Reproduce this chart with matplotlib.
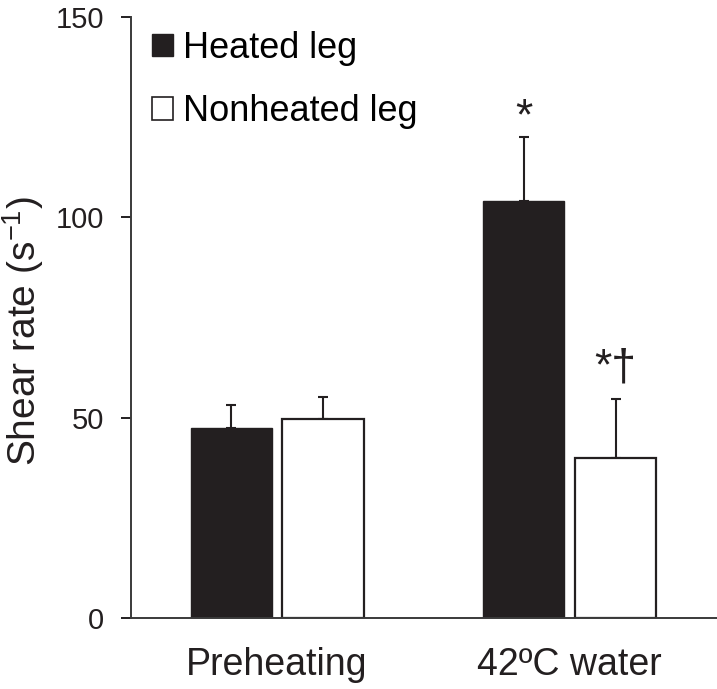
import matplotlib
matplotlib.use("Agg")
import matplotlib.pyplot as plt
from matplotlib.patches import Patch
import numpy as np

plt.rcParams['font.family'] = ['Liberation Sans', 'DejaVu Sans']
plt.rcParams['mathtext.fontset'] = 'custom'
plt.rcParams['mathtext.rm'] = 'Liberation Sans'
plt.rcParams['mathtext.it'] = 'Liberation Sans:italic'
plt.rcParams['mathtext.bf'] = 'Liberation Sans:bold'

categories = ["Preheating", "42ºC water"]
series_names = ["Heated leg", "Nonheated leg"]
heated = [47.5, 104.2]
heated_se = [5.7, 15.8]
nonheated = [49.6, 40.0]
nonheated_se = [5.6, 14.7]
annotations_heated = ["", "*"]
annotations_heated_y = [None, 122.0]
annotations_nonheated = ["", "*†"]
annotations_nonheated_y = [None, 59.5]

W, H = 717, 689
fig = plt.figure(figsize=(W / 100, H / 100), dpi=100)
ax = fig.add_axes([131 / W, 1 - 618 / H, (W - 131) / W, (618 - 17) / H])

x = np.arange(len(categories))
w = 0.277
off = 0.157
dark = "#231f20"
ax.bar(x - off, heated, w, color=dark, edgecolor=dark, linewidth=1.0, zorder=2)
ax.bar(x + off, nonheated, w, color="white", edgecolor=dark, linewidth=1.6, zorder=2)
ax.errorbar(x - off, heated, yerr=[np.zeros(2), heated_se], fmt="none",
            ecolor=dark, elinewidth=1.5, capsize=3.3, capthick=1.5, zorder=1)
ax.errorbar(x + off, nonheated, yerr=[np.zeros(2), nonheated_se], fmt="none",
            ecolor=dark, elinewidth=1.5, capsize=3.3, capthick=1.5, zorder=1)

for i in range(len(categories)):
    if annotations_heated[i]:
        ax.text(x[i] - off, annotations_heated_y[i], annotations_heated[i],
                ha="center", va="baseline", fontsize=32, color=dark)
    if annotations_nonheated[i]:
        ax.text(x[i] + off, annotations_nonheated_y[i], annotations_nonheated[i],
                ha="center", va="baseline", fontsize=32, color=dark)

ax.set_xlim(-0.499, 1.503)
ax.set_ylim(0, 150)
ax.set_yticks([0, 50, 100, 150])
ax.set_xticks(x)
ax.set_xticklabels(categories)
ax.tick_params(axis="y", direction="out", length=7.2, width=1.4, labelsize=21, pad=12, colors=dark)
ax.tick_params(axis="x", length=0, labelsize=27, pad=21, colors=dark)
for s in ["top", "right"]:
    ax.spines[s].set_visible(False)
for s in ["left", "bottom"]:
    ax.spines[s].set_linewidth(1.4)
    ax.spines[s].set_color("#3a3a3a")

fig.text(23 / W, 1 - 331 / H, "Shear rate (s$^{\\mathrm{-1}}$)", rotation=90,
         ha="center", va="center", fontsize=28, color=dark)

handles = [Patch(facecolor=dark, edgecolor=dark, linewidth=1.0),
           Patch(facecolor="white", edgecolor=dark, linewidth=1.2)]
ax.legend(handles, series_names, loc="upper left", bbox_to_anchor=(0.036, 0.977),
          frameon=False, fontsize=26, handlelength=0.58, handleheight=0.58,
          handletextpad=0.28, labelspacing=0.79, borderaxespad=0.0, borderpad=0.0)

fig.savefig("out.png", dpi=100)
